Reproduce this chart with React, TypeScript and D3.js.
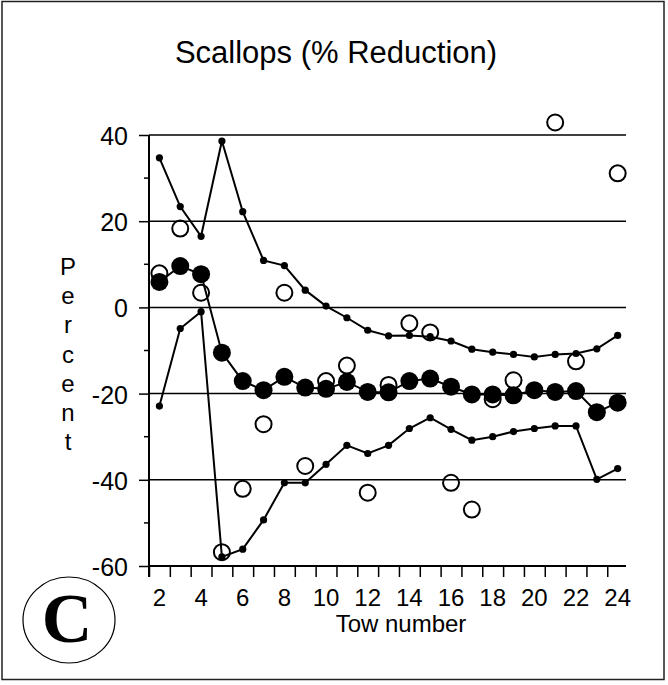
import React, { useEffect, useRef } from "react";
import * as d3 from "d3";

// tow numbers 2..24
const tows = [2, 3, 4, 5, 6, 7, 8, 9, 10, 11, 12, 13, 14, 15, 16, 17, 18, 19, 20, 21, 22, 23, 24];

// upper bound line (small dots)
const upper = [34.7, 23.4, 16.5, 38.6, 22.2, 10.9, 9.7, 4.0, 0.3, -2.4, -5.3, -6.6, -6.5, -6.8, -7.8, -9.7, -10.4, -10.9, -11.5, -10.9, -10.7, -9.6, -6.5];

// lower bound line (small dots)
const lower = [-22.9, -4.9, -1.0, -57.9, -56.1, -49.3, -40.7, -40.7, -36.4, -32.0, -33.9, -32.0, -28.1, -25.6, -28.3, -30.8, -30.0, -28.8, -28.1, -27.5, -27.5, -39.9, -37.4];

// cumulative mean (big filled circles)
const mean = [5.9, 9.6, 7.7, -10.5, -17.1, -19.2, -16.1, -18.6, -18.9, -17.3, -19.6, -19.7, -17.1, -16.5, -18.4, -20.2, -20.2, -20.4, -19.2, -19.6, -19.4, -24.3, -22.1];

// single tow values (open circles)
const obsTows = [2, 3, 4, 5, 6, 7, 8, 9, 10, 11, 12, 13, 14, 15, 16, 17, 18, 19, 21, 22, 24];
const obs = [7.9, 18.3, 3.4, -56.8, -42.1, -27.1, 3.4, -36.8, -17.1, -13.5, -43.0, -18.0, -3.7, -5.8, -40.7, -46.9, -21.3, -16.9, 42.9, -12.5, 31.1];

const yTicks = [40, 20, 0, -20, -40, -60];
const xLabels = [2, 4, 6, 8, 10, 12, 14, 16, 18, 20, 22, 24];
const yLabelLetters = ["P", "e", "r", "c", "e", "n", "t"];

const FONT = "'Liberation Sans', Arial, Helvetica, sans-serif";

const App = () => {
  const svgRef = useRef<SVGSVGElement>(null);

  useEffect(() => {
    const svg = d3.select(svgRef.current);
    svg.selectAll("*").remove();

    const x = d3.scaleLinear().domain([1.5, 24.4]).range([149, 626]);
    const y = d3.scaleLinear().domain([-60, 40]).range([566, 135]);

    // outer frame
    svg
      .append("rect")
      .attr("x", 2)
      .attr("y", 1.5)
      .attr("width", 662)
      .attr("height", 678)
      .attr("fill", "none")
      .attr("stroke", "#222")
      .attr("stroke-width", 1.5);

    svg
      .append("text")
      .attr("x", 336)
      .attr("y", 63)
      .attr("text-anchor", "middle")
      .style("font-family", FONT)
      .style("font-size", "31px")
      .text("Scallops (% Reduction)");

    // horizontal grid lines
    svg
      .append("g")
      .selectAll("line")
      .data(yTicks.filter((d) => d > -60))
      .enter()
      .append("line")
      .attr("x1", x(1.5))
      .attr("x2", x(24.4))
      .attr("y1", (d) => y(d))
      .attr("y2", (d) => y(d))
      .attr("stroke", "#000")
      .attr("stroke-width", 1.5);

    // y axis
    const yAxis = svg
      .append("g")
      .attr("transform", `translate(${x(1.5)},0)`)
      .call(
        d3
          .axisLeft(y)
          .tickValues(yTicks)
          .tickSize(10)
          .tickPadding(11)
          .tickFormat((d) => String(d))
      );
    yAxis.select(".domain").attr("d", `M0,${y(40)}V${y(-60) + 11}`).attr("stroke-width", 2);
    yAxis.selectAll(".tick line").attr("stroke-width", 1.5);
    yAxis
      .selectAll(".tick text")
      .attr("dy", "0.38em")
      .style("font-family", FONT)
      .style("font-size", "25px")
      .attr("fill", "#000");

    // minor y ticks
    svg
      .append("g")
      .selectAll("line")
      .data([30, 10, -10, -30, -50])
      .enter()
      .append("line")
      .attr("x1", x(1.5) - 5)
      .attr("x2", x(1.5))
      .attr("y1", (d) => y(d))
      .attr("y2", (d) => y(d))
      .attr("stroke", "#000")
      .attr("stroke-width", 1.5);

    // x axis, ticks sit between the tows
    const xAxis = svg
      .append("g")
      .attr("transform", `translate(0,${y(-60)})`)
      .call(
        d3
          .axisBottom(x)
          .tickValues(d3.range(1.5, 24, 1))
          .tickSize(11)
          .tickFormat(() => "")
      );
    xAxis.select(".domain").attr("d", `M${x(1.5)},0H${x(24.4)}`).attr("stroke-width", 2);
    xAxis.selectAll(".tick line").attr("stroke-width", 1.5);

    svg
      .append("g")
      .selectAll("text")
      .data(xLabels)
      .enter()
      .append("text")
      .attr("x", (d) => x(d))
      .attr("y", 606)
      .attr("text-anchor", "middle")
      .style("font-family", FONT)
      .style("font-size", "24px")
      .text((d) => d);

    svg
      .append("text")
      .attr("x", 401)
      .attr("y", 632)
      .attr("text-anchor", "middle")
      .style("font-family", FONT)
      .style("font-size", "24px")
      .text("Tow number");

    // vertical "Percent"
    svg
      .append("g")
      .selectAll("text")
      .data(yLabelLetters)
      .enter()
      .append("text")
      .attr("x", 68)
      .attr("y", (d, i) => 275 + i * 29.2)
      .attr("text-anchor", "middle")
      .style("font-family", FONT)
      .style("font-size", "24px")
      .text((d) => d);

    // panel label
    svg
      .append("ellipse")
      .attr("cx", 69)
      .attr("cy", 620)
      .attr("rx", 46)
      .attr("ry", 43)
      .attr("fill", "none")
      .attr("stroke", "#000")
      .attr("stroke-width", 1.2);
    svg
      .append("text")
      .attr("x", 67)
      .attr("y", 642)
      .attr("text-anchor", "middle")
      .style("font-family", "'Liberation Serif', 'Times New Roman', serif")
      .style("font-weight", "bold")
      .style("font-size", "70px")
      .text("C");

    const line = d3
      .line<number>()
      .x((d, i) => x(tows[i]))
      .y((d) => y(d));

    [upper, lower].forEach((series) => {
      svg
        .append("path")
        .attr("d", line(series))
        .attr("fill", "none")
        .attr("stroke", "#000")
        .attr("stroke-width", 2);
    });

    // open circles
    svg
      .append("g")
      .selectAll("circle")
      .data(obs)
      .enter()
      .append("circle")
      .attr("cx", (d, i) => x(obsTows[i]))
      .attr("cy", (d) => y(d))
      .attr("r", 8)
      .attr("fill", "none")
      .attr("stroke", "#000")
      .attr("stroke-width", 2);

    [upper, lower].forEach((series) => {
      svg
        .append("g")
        .selectAll("circle")
        .data(series)
        .enter()
        .append("circle")
        .attr("cx", (d, i) => x(tows[i]))
        .attr("cy", (d) => y(d))
        .attr("r", 3.6)
        .attr("fill", "#000");
    });

    svg
      .append("path")
      .attr("d", line(mean))
      .attr("fill", "none")
      .attr("stroke", "#000")
      .attr("stroke-width", 2);

    svg
      .append("g")
      .selectAll("circle")
      .data(mean)
      .enter()
      .append("circle")
      .attr("cx", (d, i) => x(tows[i]))
      .attr("cy", (d) => y(d))
      .attr("r", 9)
      .attr("fill", "#000");
  }, []);

  return (
    <svg
      ref={svgRef}
      width={668}
      height={685}
      style={{ position: "absolute", left: 0, top: 0, background: "#fff" }}
    ></svg>
  );
};

export default App;
